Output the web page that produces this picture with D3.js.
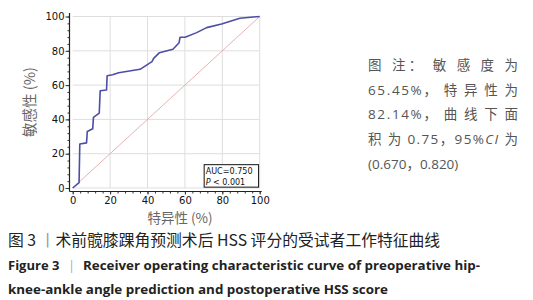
<!DOCTYPE html>
<html>
<head>
<meta charset="utf-8">
<script src="https://cdn.jsdelivr.net/npm/d3@7"></script>
<style>
body { margin: 0; background: #fff; }
svg text { font-family: "DejaVu Sans", sans-serif; }
.cjk { font-family: "Noto Sans CJK SC", sans-serif; }
.mix { font-family: "Open Sans", "Noto Sans CJK SC", sans-serif; }
.en { font-family: "Open Sans", "Noto Sans", sans-serif; }
</style>
</head>
<body>
<svg width="533" height="300"></svg>
<script>
// ROC curve points (1 - specificity, sensitivity)
var fpr = [0, 3.4, 3.8, 7.4, 7.8, 10.7, 11.1, 14.2, 14.7, 18.1, 18.4, 21.3, 24.6, 36, 42.4, 43.3, 46.4, 53.6, 56.9, 57.4, 60.1, 66.3, 71.6, 79.6, 89.4, 100];
var tpr = [0, 3.1, 25.7, 26.3, 33, 34.5, 41.2, 43.7, 56.7, 57.1, 65.5, 66, 67.2, 69.2, 73.7, 75.6, 78.9, 80.9, 84.7, 87.9, 87.9, 90.6, 93.5, 95.6, 99, 100];
var majorTicks = [0, 20, 40, 60, 80, 100];
var minorTicks = d3.range(0, 101, 4);
var aucLines = ["AUC=0.750", "< 0.001"];
var noteLines = ["图 注： 敏 感 度 为", "65.45%， 特 异 性 为", "82.14%， 曲 线 下 面", "积 为 0.75，95%CI 为", "(0.670，0.820)"];

var svg = d3.select("svg");
var x = d3.scaleLinear().domain([0, 100]).range([72.7, 259.7]);
var y = d3.scaleLinear().domain([0, 100]).range([188, 16.5]);

// grid
svg.append("g").selectAll("line.v").data(majorTicks.slice(1)).enter().append("line")
	.attr("x1", function(d){ return x(d); }).attr("x2", function(d){ return x(d); })
	.attr("y1", y(0)).attr("y2", y(100))
	.attr("stroke", "#dedede").attr("stroke-width", 1);
svg.append("g").selectAll("line.h").data(majorTicks).enter().append("line")
	.attr("x1", x(0)).attr("x2", x(100))
	.attr("y1", function(d){ return y(d); }).attr("y2", function(d){ return y(d); })
	.attr("stroke", "#dedede").attr("stroke-width", 1);

// axes, set a little off the plot
var ax = x(0) - 3.2, ay = y(0) + 3.5;
svg.append("g").attr("transform", "translate(" + ax + ",0)")
	.call(d3.axisLeft(y).tickValues(minorTicks).tickSize(2).tickSizeOuter(0).tickFormat(""));
var yAxis = svg.append("g").attr("transform", "translate(" + ax + ",0)")
	.call(d3.axisLeft(y).tickValues(majorTicks).tickSize(4).tickSizeOuter(0));
svg.append("g").attr("transform", "translate(0," + ay + ")")
	.call(d3.axisBottom(x).tickValues(minorTicks).tickSize(2).tickSizeOuter(0).tickFormat(""));
var xAxis = svg.append("g").attr("transform", "translate(0," + ay + ")")
	.call(d3.axisBottom(x).tickValues(majorTicks).tickSize(3).tickSizeOuter(0));
svg.selectAll(".domain").remove();
svg.selectAll(".tick line").attr("stroke", "#333");
yAxis.selectAll("text").attr("font-size", 10).attr("fill", "#111").attr("x", -5);
xAxis.selectAll("text").attr("font-size", 10).attr("fill", "#111").attr("y", 5);
svg.append("line").attr("x1", ax).attr("x2", ax).attr("y1", y(100) - 3.5).attr("y2", ay)
	.attr("stroke", "#222").attr("stroke-width", 1.2);
svg.append("line").attr("x1", ax).attr("x2", x(100) + 2).attr("y1", ay).attr("y2", ay)
	.attr("stroke", "#222").attr("stroke-width", 1.2);

// reference diagonal
svg.append("line").attr("x1", x(0)).attr("y1", y(0)).attr("x2", x(100)).attr("y2", y(100))
	.attr("stroke", "#e3a9a9").attr("stroke-width", 0.9);

// ROC curve
var line = d3.line().x(function(d){ return x(d[0]); }).y(function(d){ return y(d[1]); });
svg.append("path").datum(d3.zip(fpr, tpr)).attr("d", line)
	.attr("fill", "none").attr("stroke", "#4d4da8").attr("stroke-width", 1.6)
	.attr("stroke-linejoin", "round");

// AUC box
var bx = x(70.3), by = y(13.6);
svg.append("rect").attr("x", bx).attr("y", by).attr("width", x(99.4) - bx).attr("height", y(0.5) - by)
	.attr("fill", "#fff").attr("stroke", "#111").attr("stroke-width", 1);
svg.append("text").attr("x", bx + 1.5).attr("y", by + 9).attr("font-size", 8).attr("fill", "#111")
	.attr("textLength", 47).attr("lengthAdjust", "spacingAndGlyphs").text(aucLines[0]);
var pt = svg.append("text").attr("x", bx + 1.5).attr("y", by + 20).attr("font-size", 8).attr("fill", "#111");
pt.append("tspan").attr("font-style", "italic").text("P");
pt.append("tspan").text(" " + aucLines[1]);

// axis titles
svg.append("text").attr("class", "cjk").attr("font-size", 14.5).attr("fill", "#666")
	.attr("text-anchor", "middle").attr("transform", "translate(35,102) rotate(-90)").text("敏感性 (%)");
svg.append("text").attr("class", "cjk").attr("font-size", 13.5).attr("fill", "#666")
	.attr("text-anchor", "middle").attr("x", 180).attr("y", 223).text("特异性 (%)");

// note on the right
noteLines.forEach(function(s, i) {
	var t = svg.append("text").attr("class", "mix").attr("font-size", 13.5).attr("fill", "#555")
		.attr("x", 368).attr("y", 70 + i * 24.7);
	if (i < 4) t.attr("textLength", 150).attr("lengthAdjust", "spacing");
	if (s.indexOf("CI") >= 0) {
		var p = s.split("CI");
		t.append("tspan").text(p[0]);
		t.append("tspan").attr("font-style", "italic").text("CI");
		t.append("tspan").text(p[1]);
	} else {
		t.text(s);
	}
});

// captions
var c1 = svg.append("text").attr("class", "cjk").attr("font-size", 15.8).attr("fill", "#222")
	.attr("x", 8).attr("y", 246);
c1.append("tspan").text("图 3 ");
c1.append("tspan").attr("fill", "#999").text("丨");
c1.append("tspan").text("术前髋膝踝角预测术后 HSS 评分的受试者工作特征曲线");

var c2 = svg.append("text").attr("class", "en").attr("font-size", 13).attr("font-weight", "bold").attr("fill", "#222")
	.attr("x", 8).attr("y", 270);
c2.append("tspan").text("Figure 3");
c2.append("tspan").attr("x", 68).attr("fill", "#aaa").attr("font-weight", "normal").text("|");
c2.append("tspan").attr("x", 83).attr("textLength", 397).attr("lengthAdjust", "spacingAndGlyphs")
	.text("Receiver operating characteristic curve of preoperative hip-");
svg.append("text").attr("class", "en").attr("font-size", 13).attr("font-weight", "bold").attr("fill", "#222")
	.attr("x", 8).attr("y", 294).attr("textLength", 380).attr("lengthAdjust", "spacingAndGlyphs")
	.text("knee-ankle angle prediction and postoperative HSS score");
</script>
</body>
</html>
